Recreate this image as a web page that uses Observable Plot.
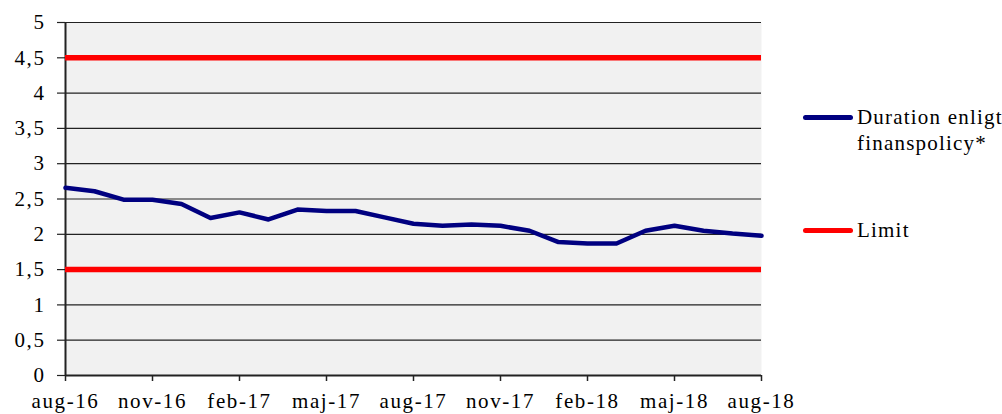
<!DOCTYPE html>
<html><head><meta charset="utf-8">
<script src="https://cdn.jsdelivr.net/npm/d3@7"></script>
<script src="https://cdn.jsdelivr.net/npm/@observablehq/plot@0.6"></script>
<style>
body{margin:0;background:#fff;}
#c{position:relative;width:1002px;height:414px;overflow:hidden;font-family:"Liberation Serif",Tinos,"Times New Roman",Times,"DejaVu Serif",serif;}
#c svg text{letter-spacing:1.6px;}
.lg{position:absolute;left:803px;white-space:nowrap;font-size:21px;letter-spacing:1.2px;color:#000;line-height:26px;}
.sw{position:absolute;left:0;width:50px;height:5px;border-radius:3px;}
.tx{position:absolute;left:54px;}
</style></head>
<body><div id="c"></div>
<script>
const months = ["aug-16","sep-16","okt-16","nov-16","dec-16","jan-17","feb-17","mar-17","apr-17","maj-17","jun-17","jul-17","aug-17","sep-17","okt-17","nov-17","dec-17","jan-18","feb-18","mar-18","apr-18","maj-18","jun-18","jul-18","aug-18"];
const duration = [2.66,2.61,2.49,2.49,2.43,2.23,2.31,2.21,2.35,2.33,2.33,2.24,2.15,2.12,2.14,2.12,2.05,1.89,1.87,1.87,2.05,2.12,2.05,2.01,1.98];
const limits = [1.5, 4.5];
const yTicks = [0,0.5,1,1.5,2,2.5,3,3.5,4,4.5,5];
const xTicks = [0,3,6,9,12,15,18,21,24];
const seriesNames = ["Duration enligt finanspolicy*", "Limit"];
const colors = ["#000080", "#ff0000"];

const data = months.map((m, i) => ({i, m, v: duration[i]}));
const fmtY = d => String(d).replace(".", ",");
const serif = '"Liberation Serif",Tinos,"Times New Roman",Times,"DejaVu Serif",serif';

const chart = Plot.plot({
  width: 1002, height: 414,
  marginLeft: 65, marginRight: 241, marginTop: 22, marginBottom: 39,
  style: {fontFamily: serif, fontSize: "21px", color: "#000", background: "transparent"},
  x: {domain: [0, 24], ticks: xTicks, tickFormat: i => months[i], label: null},
  y: {domain: [0, 5], ticks: yTicks, tickFormat: fmtY, label: null},
  marks: [
    Plot.frame({fill: "#f1f1f1", stroke: null}),
    Plot.gridY(yTicks, {stroke: "#222", strokeOpacity: 1, strokeWidth: 1.2}),
    Plot.axisY(yTicks, {tickSize: 8, tickPadding: 12, tickFormat: fmtY, stroke: "#222", strokeWidth: 1.2, fontSize: 21, fontFamily: serif}),
    Plot.axisX(xTicks, {tickSize: 6, tickPadding: 12, tickFormat: i => months[i], stroke: "#222", strokeWidth: 1.5, fontSize: 21, fontFamily: serif}),
    Plot.ruleX([0], {stroke: "#222", strokeWidth: 2}),
    Plot.ruleY([0], {stroke: "#222", strokeWidth: 2}),
    Plot.ruleY(limits, {stroke: colors[1], strokeWidth: 5.5}),
    Plot.line(data, {x: "i", y: "v", stroke: colors[0], strokeWidth: 4.5, curve: "linear"})
  ]
});
const c = document.getElementById("c");
c.appendChild(chart);

function legendItem(top, color, lines) {
  const d = document.createElement("div");
  d.className = "lg";
  d.style.top = top + "px";
  const sw = document.createElement("div");
  sw.className = "sw"; sw.style.background = color; sw.style.top = "10px";
  const t = document.createElement("div");
  t.className = "tx"; t.style.top = "-1px";
  t.innerHTML = lines.join("<br>");
  d.appendChild(sw); d.appendChild(t);
  c.appendChild(d);
}
legendItem(105, colors[0], ["Duration enligt", "finanspolicy*"]);
legendItem(218, colors[1], [seriesNames[1]]);
</script></body></html>
